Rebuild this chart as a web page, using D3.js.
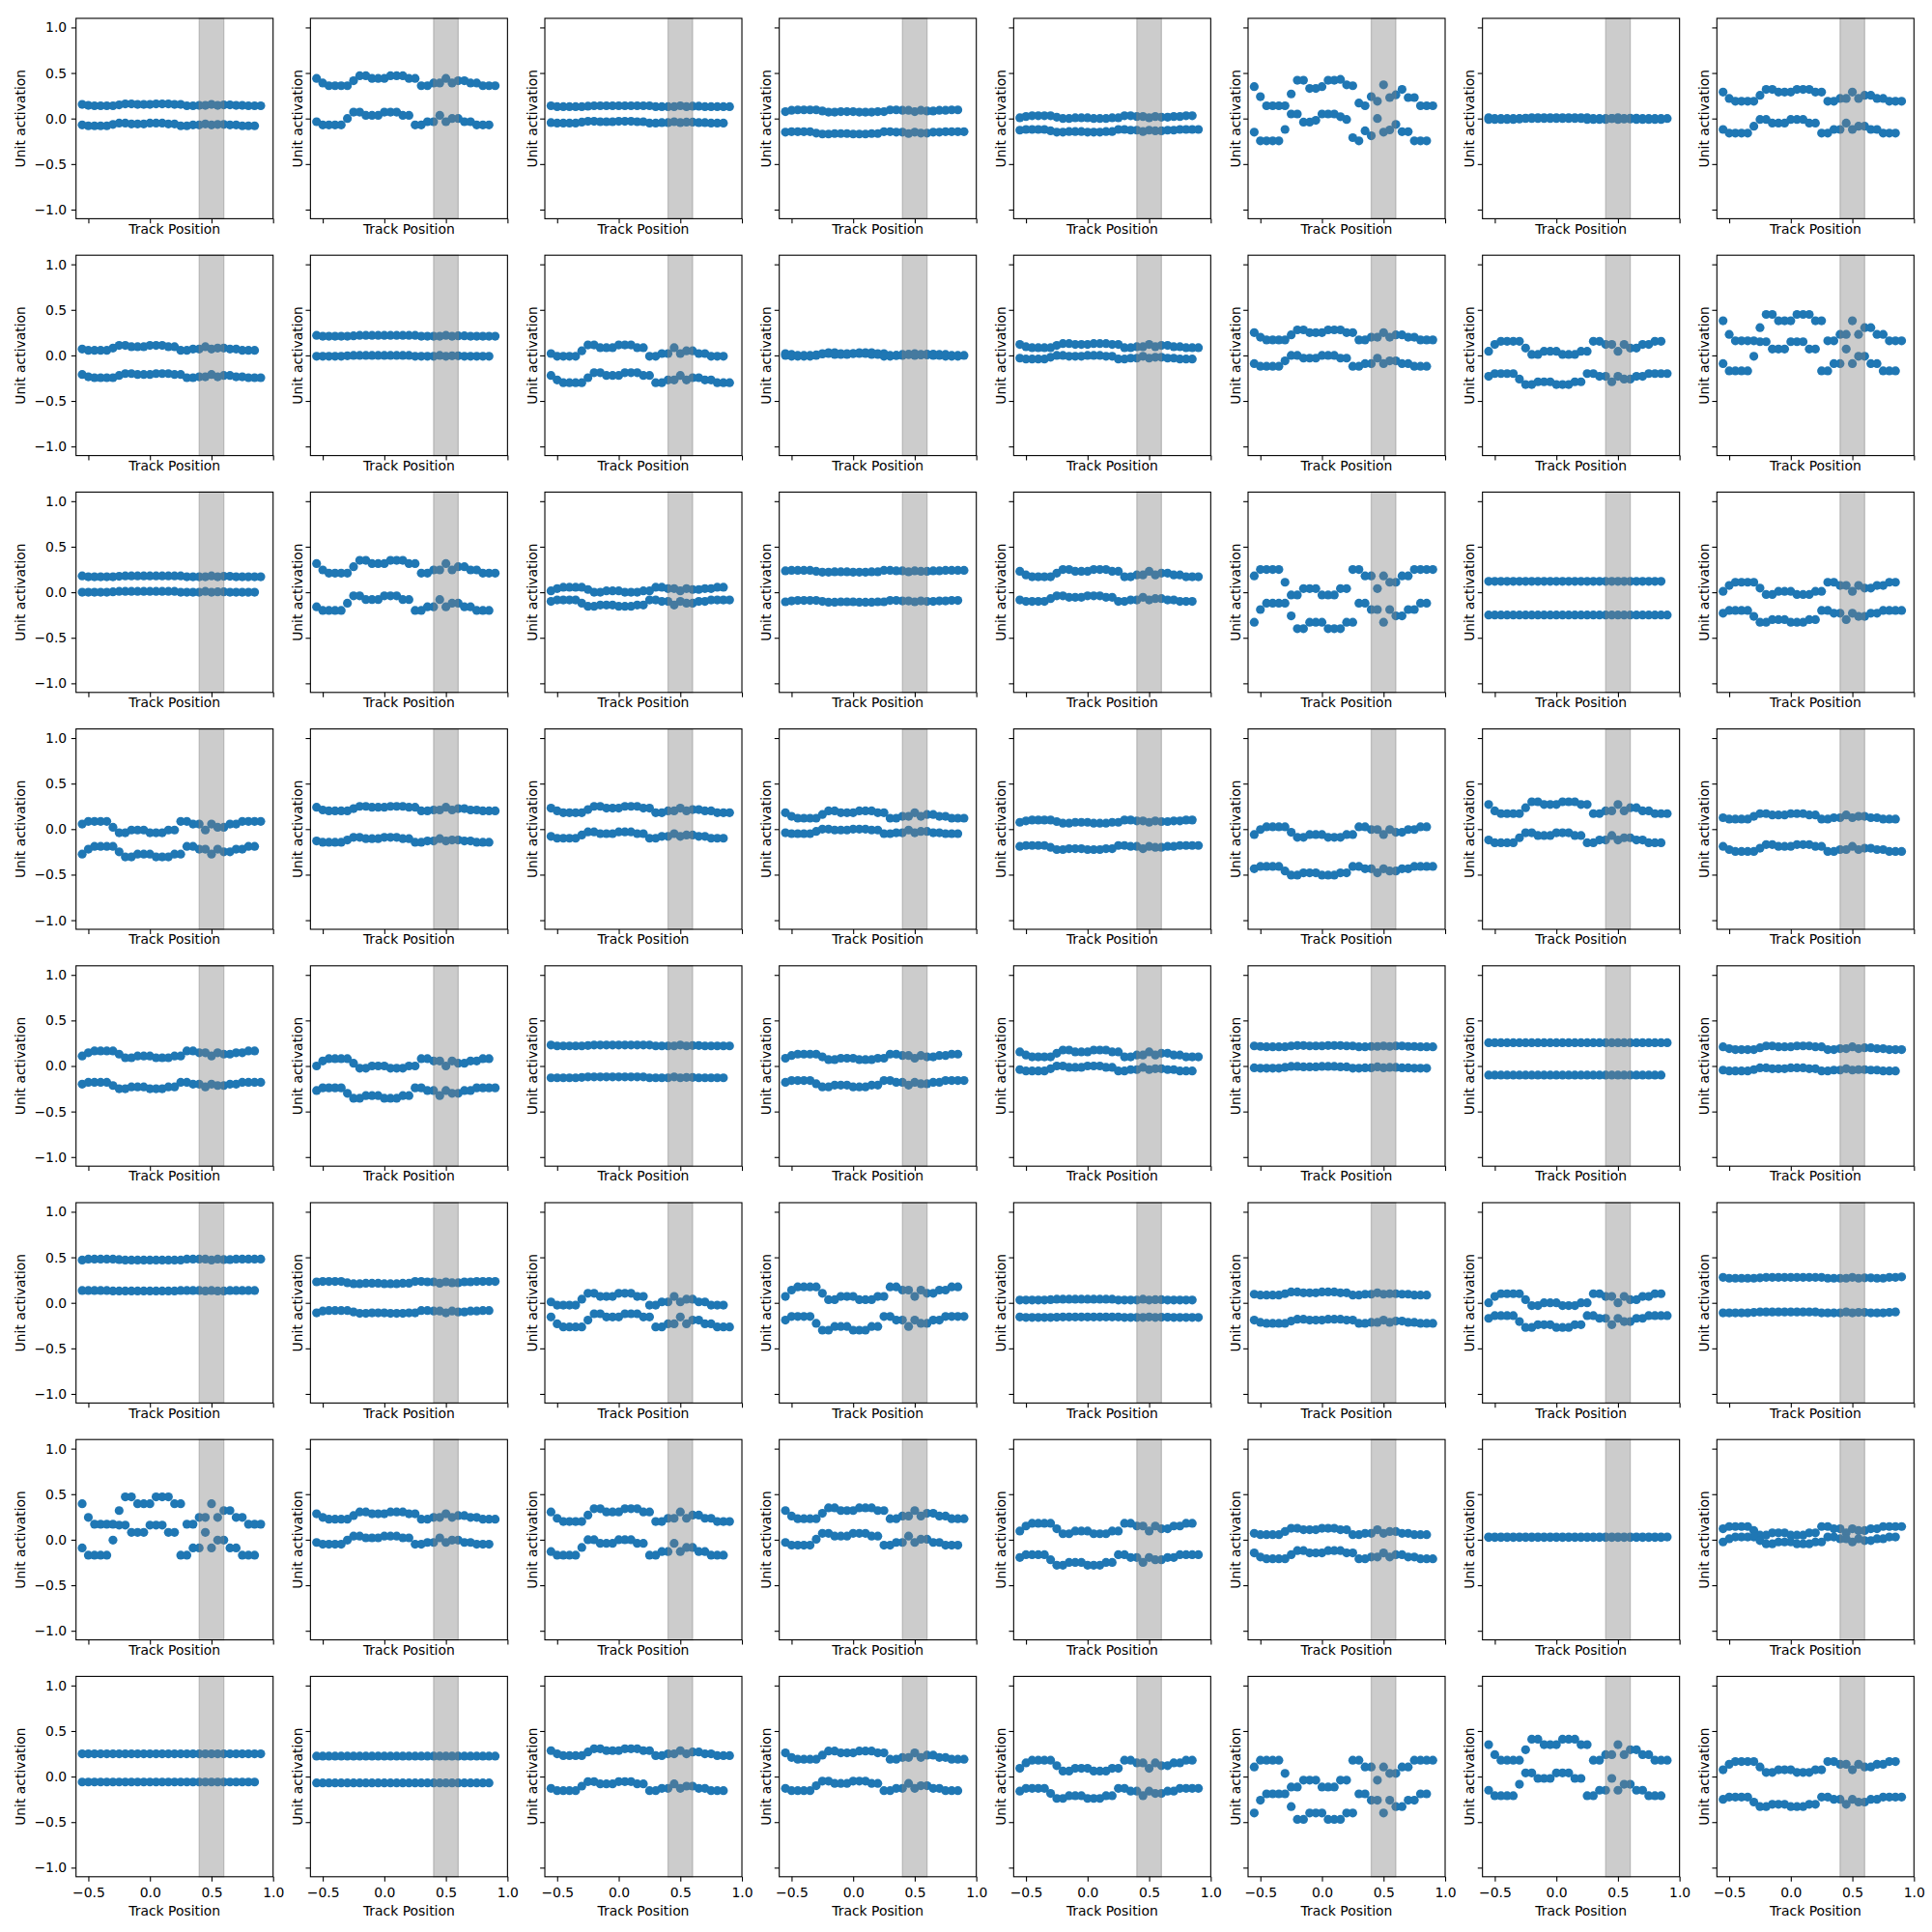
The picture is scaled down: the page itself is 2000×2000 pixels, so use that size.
<!DOCTYPE html>
<html><head><meta charset="utf-8">
<script src="https://cdn.jsdelivr.net/npm/d3@7"></script>
<style>body{margin:0;background:#fff}</style>
</head><body>
<script>
// ---- data ----
const trackPosA = [-0.55,-0.5,-0.45,-0.4,-0.35,-0.3,-0.25,-0.2,-0.15,-0.1,-0.05,0,0.05,0.1,0.15,0.2,0.25,0.3,0.35,0.4,0.45,0.5,0.55,0.6,0.65,0.7,0.75,0.8,0.85,0.9];
const trackPosB = [-0.55,-0.5,-0.45,-0.4,-0.35,-0.3,-0.25,-0.2,-0.15,-0.1,-0.05,0,0.05,0.1,0.15,0.2,0.25,0.3,0.35,0.4,0.45,0.5,0.55,0.6,0.65,0.7,0.75,0.8,0.85];
const xTickValues = [-0.5,0,0.5,1.0];
const yTickValues = [-1,-0.5,0,0.5,1];
const rewardZone = [0.4,0.6];
const xLabel = "Track Position";
const yLabel = "Unit activation";

// series A (30 points) per unit, row-major
const unitsA = [
[.155,.145,.14,.14,.14,.14,.15,.16,.16,.155,.155,.155,.16,.16,.16,.155,.155,.14,.14,.145,.145,.155,.145,.15,.15,.145,.145,.14,.14,.14],
[.44,.39,.36,.36,.36,.36,.415,.47,.47,.44,.44,.44,.47,.47,.47,.44,.44,.36,.36,.39,.39,.44,.39,.415,.415,.39,.39,.36,.36,.36],
[.14,.13,.13,.13,.13,.13,.135,.14,.14,.14,.14,.14,.14,.14,.14,.14,.14,.13,.13,.13,.13,.14,.13,.135,.135,.13,.13,.13,.13,.13],
[-.15,-.145,-.145,-.145,-.145,-.16,-.17,-.17,-.165,-.165,-.165,-.17,-.17,-.17,-.165,-.165,-.145,-.145,-.15,-.15,-.165,-.15,-.16,-.16,-.15,-.15,-.145,-.145,-.145,-.145],
[-.128,-.12,-.12,-.12,-.12,-.135,-.15,-.15,-.143,-.143,-.143,-.15,-.15,-.15,-.143,-.143,-.12,-.12,-.128,-.128,-.143,-.128,-.135,-.135,-.128,-.128,-.12,-.12,-.12,-.12],
[.35,.24,.14,.14,.14,.14,.27,.42,.42,.33,.33,.35,.42,.42,.43,.37,.36,.17,.14,.24,.19,.37,.23,.26,.32,.23,.23,.14,.14,.14],
[.01,0,0,0,0,0,.005,.01,.01,.01,.01,.01,.01,.01,.01,.01,.01,0,0,0,0,.01,0,.005,.005,0,0,0,0,0],
[.29,.22,.19,.19,.19,.19,.255,.32,.32,.29,.29,.29,.32,.32,.32,.29,.29,.19,.19,.22,.22,.29,.22,.255,.255,.22,.22,.19,.19,.19],

[-.21,-.235,-.245,-.245,-.245,-.245,-.22,-.2,-.2,-.21,-.21,-.21,-.2,-.2,-.2,-.21,-.21,-.245,-.245,-.235,-.235,-.21,-.235,-.22,-.22,-.235,-.235,-.245,-.245,-.245],
[.22,.21,.21,.21,.21,.21,.215,.22,.22,.22,.22,.22,.22,.22,.22,.22,.22,.21,.21,.21,.21,.22,.21,.215,.215,.21,.21,.21,.21,.21],
[-.22,-.27,-.3,-.3,-.3,-.3,-.245,-.19,-.19,-.22,-.22,-.22,-.19,-.19,-.19,-.22,-.22,-.3,-.3,-.27,-.27,-.22,-.27,-.245,-.245,-.27,-.27,-.3,-.3,-.3],
[.02,.01,0,0,0,0,.015,.03,.03,.02,.02,.02,.03,.03,.03,.02,.02,0,0,.01,.01,.02,.01,.015,.015,.01,.01,0,0,0],
[.12,.095,.085,.085,.085,.085,.11,.13,.13,.12,.12,.12,.13,.13,.13,.12,.12,.085,.085,.095,.095,.12,.095,.11,.11,.095,.095,.085,.085,.085],
[.25,.2,.17,.17,.17,.17,.225,.28,.28,.25,.25,.25,.28,.28,.28,.25,.25,.17,.17,.2,.2,.25,.2,.225,.225,.2,.2,.17,.17,.17],
[-.23,-.2,-.2,-.2,-.2,-.26,-.32,-.32,-.29,-.29,-.29,-.32,-.32,-.32,-.29,-.29,-.2,-.2,-.23,-.23,-.29,-.23,-.26,-.26,-.23,-.23,-.2,-.2,-.2,-.2],
[.38,.23,.16,.16,.16,.16,.305,.45,.45,.38,.38,.38,.45,.45,.45,.38,.38,.16,.16,.23,.23,.38,.23,.305,.305,.23,.23,.16,.16,.16],

[.18,.17,.17,.17,.17,.17,.175,.18,.18,.18,.18,.18,.18,.18,.18,.18,.18,.17,.17,.17,.17,.18,.17,.175,.175,.17,.17,.17,.17,.17],
[.315,.245,.21,.21,.21,.21,.28,.35,.35,.315,.315,.315,.35,.35,.35,.315,.315,.21,.21,.245,.245,.315,.245,.28,.28,.245,.245,.21,.21,.21],
[-.1,-.085,-.085,-.085,-.085,-.12,-.155,-.155,-.14,-.14,-.14,-.155,-.155,-.155,-.14,-.14,-.085,-.085,-.1,-.1,-.14,-.1,-.12,-.12,-.1,-.1,-.085,-.085,-.085,-.085],
[.235,.24,.24,.24,.24,.23,.22,.22,.225,.225,.225,.22,.22,.22,.225,.225,.24,.24,.235,.235,.225,.235,.23,.23,.235,.235,.24,.24,.24,.24],
[.23,.19,.17,.17,.17,.17,.21,.25,.25,.23,.23,.23,.25,.25,.25,.23,.23,.17,.17,.19,.19,.23,.19,.21,.21,.19,.19,.17,.17,.17],
[.18,.25,.25,.25,.25,.11,-.03,-.03,.04,.04,.04,-.03,-.03,-.03,.04,.04,.25,.25,.18,.18,.04,.18,.11,.11,.18,.18,.25,.25,.25,.25],
[-.25,-.25,-.25,-.25,-.25,-.25,-.25,-.25,-.25,-.25,-.25,-.25,-.25,-.25,-.25,-.25,-.25,-.25,-.25,-.25,-.25,-.25,-.25,-.25,-.25,-.25,-.25,-.25,-.25,-.25],
[-.23,-.2,-.2,-.2,-.2,-.265,-.33,-.33,-.3,-.3,-.3,-.33,-.33,-.33,-.3,-.3,-.2,-.2,-.23,-.23,-.3,-.23,-.265,-.265,-.23,-.23,-.2,-.2,-.2,-.2],

[.055,.085,.085,.085,.085,.02,-.04,-.04,-.01,-.01,-.01,-.04,-.04,-.04,-.01,-.01,.085,.085,.055,.055,-.01,.055,.02,.02,.055,.055,.085,.085,.085,.085],
[.24,.21,.2,.2,.2,.2,.225,.25,.25,.24,.24,.24,.25,.25,.25,.24,.24,.2,.2,.21,.21,.24,.21,.225,.225,.21,.21,.2,.2,.2],
[.23,.2,.18,.18,.18,.18,.215,.25,.25,.23,.23,.23,.25,.25,.25,.23,.23,.18,.18,.2,.2,.23,.2,.215,.215,.2,.2,.18,.18,.18],
[.18,.14,.12,.12,.12,.12,.16,.2,.2,.18,.18,.18,.2,.2,.2,.18,.18,.12,.12,.14,.14,.18,.14,.16,.16,.14,.14,.12,.12,.12],
[-.19,-.18,-.18,-.18,-.18,-.2,-.225,-.225,-.215,-.215,-.215,-.225,-.225,-.225,-.215,-.215,-.18,-.18,-.19,-.19,-.215,-.19,-.2,-.2,-.19,-.19,-.18,-.18,-.18,-.18],
[-.435,-.41,-.41,-.41,-.41,-.46,-.505,-.505,-.48,-.48,-.48,-.505,-.505,-.505,-.48,-.48,-.41,-.41,-.435,-.435,-.48,-.435,-.46,-.46,-.435,-.435,-.41,-.41,-.41,-.41],
[.27,.2,.17,.17,.17,.17,.235,.3,.3,.27,.27,.27,.3,.3,.3,.27,.27,.17,.17,.2,.2,.27,.2,.235,.235,.2,.2,.17,.17,.17],
[-.19,-.225,-.245,-.245,-.245,-.245,-.21,-.17,-.17,-.19,-.19,-.19,-.17,-.17,-.17,-.19,-.19,-.245,-.245,-.225,-.225,-.19,-.225,-.21,-.21,-.225,-.225,-.245,-.245,-.245],

[-.2,-.18,-.18,-.18,-.18,-.215,-.25,-.25,-.23,-.23,-.23,-.25,-.25,-.25,-.23,-.23,-.18,-.18,-.2,-.2,-.23,-.2,-.215,-.215,-.2,-.2,-.18,-.18,-.18,-.18],
[-.27,-.24,-.24,-.24,-.24,-.3,-.355,-.355,-.325,-.325,-.325,-.355,-.355,-.355,-.325,-.325,-.24,-.24,-.27,-.27,-.325,-.27,-.3,-.3,-.27,-.27,-.24,-.24,-.24,-.24],
[.23,.22,.22,.22,.22,.22,.225,.23,.23,.23,.23,.23,.23,.23,.23,.23,.23,.22,.22,.22,.22,.23,.22,.225,.225,.22,.22,.22,.22,.22],
[-.18,-.16,-.16,-.16,-.16,-.195,-.23,-.23,-.21,-.21,-.21,-.23,-.23,-.23,-.21,-.21,-.16,-.16,-.18,-.18,-.21,-.18,-.195,-.195,-.18,-.18,-.16,-.16,-.16,-.16],
[.155,.12,.1,.1,.1,.1,.14,.175,.175,.155,.155,.155,.175,.175,.175,.155,.155,.1,.1,.12,.12,.155,.12,.14,.14,.12,.12,.1,.1,.1],
[.22,.215,.21,.21,.21,.21,.22,.225,.225,.22,.22,.22,.225,.225,.225,.22,.22,.21,.21,.215,.215,.22,.215,.22,.22,.215,.215,.21,.21,.21],
[.255,.255,.255,.255,.255,.255,.255,.255,.255,.255,.255,.255,.255,.255,.255,.255,.255,.255,.255,.255,.255,.255,.255,.255,.255,.255,.255,.255,.255,.255],
[.21,.19,.18,.18,.18,.18,.2,.22,.22,.21,.21,.21,.22,.22,.22,.21,.21,.18,.18,.19,.19,.21,.19,.2,.2,.19,.19,.18,.18,.18],

[.47,.48,.48,.48,.48,.48,.475,.47,.47,.47,.47,.47,.47,.47,.47,.47,.47,.48,.48,.48,.48,.47,.48,.475,.475,.48,.48,.48,.48,.48],
[.23,.235,.235,.235,.235,.22,.21,.21,.215,.215,.215,.21,.21,.21,.215,.215,.235,.235,.23,.23,.215,.23,.22,.22,.23,.23,.235,.235,.235,.235],
[-.155,-.23,-.265,-.265,-.265,-.265,-.19,-.12,-.12,-.155,-.155,-.155,-.12,-.12,-.12,-.155,-.155,-.265,-.265,-.23,-.23,-.155,-.23,-.19,-.19,-.23,-.23,-.265,-.265,-.265],
[-.19,-.15,-.15,-.15,-.15,-.225,-.3,-.3,-.26,-.26,-.26,-.3,-.3,-.3,-.26,-.26,-.15,-.15,-.19,-.19,-.26,-.19,-.225,-.225,-.19,-.19,-.15,-.15,-.15,-.15],
[-.155,-.16,-.16,-.16,-.16,-.16,-.158,-.155,-.155,-.155,-.155,-.155,-.155,-.155,-.155,-.155,-.155,-.16,-.16,-.16,-.16,-.155,-.16,-.158,-.158,-.16,-.16,-.16,-.16,-.16],
[-.19,-.215,-.225,-.225,-.225,-.225,-.2,-.18,-.18,-.19,-.19,-.19,-.18,-.18,-.18,-.19,-.19,-.225,-.225,-.215,-.215,-.19,-.215,-.2,-.2,-.215,-.215,-.225,-.225,-.225],
[-.17,-.14,-.14,-.14,-.14,-.205,-.27,-.27,-.24,-.24,-.24,-.27,-.27,-.27,-.24,-.24,-.14,-.14,-.17,-.17,-.24,-.17,-.205,-.205,-.17,-.17,-.14,-.14,-.14,-.14],
[.28,.27,.27,.27,.27,.27,.275,.28,.28,.28,.28,.28,.28,.28,.28,.28,.28,.27,.27,.27,.27,.28,.27,.275,.275,.27,.27,.28,.28,.285],

[.395,.245,.17,.17,.17,.17,.32,.47,.47,.395,.395,.395,.47,.47,.47,.395,.395,.17,.17,.245,.245,.395,.245,.32,.32,.245,.245,.17,.17,.17],
[.285,.245,.225,.225,.225,.225,.265,.305,.305,.285,.285,.285,.305,.305,.305,.285,.285,.225,.225,.245,.245,.285,.245,.265,.265,.245,.245,.225,.225,.225],
[.305,.235,.2,.2,.2,.2,.27,.34,.34,.305,.305,.305,.34,.34,.34,.305,.305,.2,.2,.235,.235,.305,.235,.27,.27,.235,.235,.2,.2,.2],
[.32,.26,.23,.23,.23,.23,.29,.35,.35,.32,.32,.32,.35,.35,.35,.32,.32,.23,.23,.26,.26,.32,.26,.29,.29,.26,.26,.23,.23,.23],
[-.195,-.165,-.165,-.165,-.165,-.22,-.28,-.28,-.25,-.25,-.25,-.28,-.28,-.28,-.25,-.25,-.165,-.165,-.195,-.195,-.25,-.195,-.22,-.22,-.195,-.195,-.165,-.165,-.165,-.165],
[-.145,-.19,-.21,-.21,-.21,-.21,-.165,-.12,-.12,-.145,-.145,-.145,-.12,-.12,-.12,-.145,-.145,-.21,-.21,-.19,-.19,-.145,-.19,-.165,-.165,-.19,-.19,-.21,-.21,-.21],
[.03,.03,.03,.03,.03,.03,.03,.03,.03,.03,.03,.03,.03,.03,.03,.03,.03,.03,.03,.03,.03,.03,.03,.03,.03,.03,.03,.03,.03,.03],
[.12,.145,.145,.145,.145,.1,.05,.05,.075,.075,.075,.05,.05,.05,.075,.075,.145,.145,.12,.12,.075,.12,.1,.1,.12,.12,.145,.145,.145,.145],

[.25,.25,.25,.25,.25,.25,.25,.25,.25,.25,.25,.25,.25,.25,.25,.25,.25,.25,.25,.25,.25,.25,.25,.25,.25,.25,.25,.25,.25,.25],
[.225,.225,.225,.225,.225,.225,.225,.225,.225,.225,.225,.225,.225,.225,.225,.225,.225,.225,.225,.225,.225,.225,.225,.225,.225,.225,.225,.225,.225,.225],
[.285,.25,.23,.23,.23,.23,.27,.305,.305,.285,.285,.285,.305,.305,.305,.285,.285,.23,.23,.25,.25,.285,.25,.27,.27,.25,.25,.23,.23,.23],
[.26,.21,.19,.19,.19,.19,.235,.28,.28,.26,.26,.26,.28,.28,.28,.26,.26,.19,.19,.21,.21,.26,.21,.235,.235,.21,.21,.19,.19,.19],
[-.16,-.13,-.13,-.13,-.13,-.185,-.24,-.24,-.21,-.21,-.21,-.24,-.24,-.24,-.21,-.21,-.13,-.13,-.16,-.16,-.21,-.16,-.185,-.185,-.16,-.16,-.13,-.13,-.13,-.13],
[.105,.18,.18,.18,.18,.035,-.115,-.115,-.04,-.04,-.04,-.115,-.115,-.115,-.04,-.04,.18,.18,.105,.105,-.04,.105,.035,.035,.105,.105,.18,.18,.18,.18],
[.35,.24,.18,.18,.18,.18,.295,.41,.41,.35,.35,.35,.41,.41,.41,.35,.35,.18,.18,.24,.24,.35,.24,.295,.295,.24,.24,.18,.18,.18],
[-.25,-.225,-.225,-.225,-.225,-.28,-.33,-.33,-.305,-.305,-.305,-.33,-.33,-.33,-.305,-.305,-.225,-.225,-.25,-.25,-.305,-.25,-.28,-.28,-.25,-.25,-.225,-.225,-.225,-.225]
];

// series B (29 points) per unit, row-major
const unitsB = [
[-.07,-.08,-.08,-.08,-.08,-.065,-.05,-.05,-.06,-.06,-.06,-.05,-.05,-.05,-.06,-.06,-.08,-.08,-.07,-.07,-.06,-.07,-.065,-.065,-.07,-.07,-.08,-.08,-.08],
[-.035,-.07,-.07,-.07,-.07,0,.07,.07,.035,.035,.035,.07,.07,.07,.035,.035,-.07,-.07,-.035,-.035,.035,-.035,0,0,-.035,-.035,-.07,-.07,-.07],
[-.045,-.05,-.05,-.05,-.05,-.04,-.03,-.03,-.035,-.035,-.035,-.03,-.03,-.03,-.035,-.035,-.05,-.05,-.045,-.045,-.035,-.045,-.04,-.04,-.045,-.045,-.05,-.05,-.05],
[.076,.09,.095,.095,.095,.095,.083,.07,.07,.076,.076,.076,.07,.07,.07,.076,.076,.095,.095,.09,.09,.076,.09,.083,.083,.09,.09,.095,.095],
[.008,.022,.03,.03,.03,.03,.015,0,0,.008,.008,.008,0,0,0,.008,.008,.03,.03,.022,.022,.008,.022,.015,.015,.022,.022,.03,.03],
[-.15,-.245,-.245,-.245,-.245,-.12,.05,.05,-.04,-.04,-.02,.05,.05,.05,.02,-.01,-.21,-.245,-.135,-.19,0,-.15,-.125,-.065,-.145,-.145,-.245,-.245,-.245],
[-.01,-.01,-.01,-.01,-.01,-.005,0,0,0,0,0,0,0,0,0,0,-.01,-.01,-.01,-.01,0,-.01,-.005,-.005,-.01,-.01,-.01,-.01,-.01],
[-.12,-.16,-.16,-.16,-.16,-.085,-.01,-.01,-.05,-.05,-.05,-.01,-.01,-.01,-.05,-.05,-.16,-.16,-.12,-.12,-.05,-.12,-.085,-.085,-.12,-.12,-.16,-.16,-.16],

[.07,.055,.055,.055,.055,.08,.11,.11,.095,.095,.095,.11,.11,.11,.095,.095,.055,.055,.07,.07,.095,.07,.08,.08,.07,.07,.055,.055,.055],
[-.01,-.01,-.01,-.01,-.01,-.005,0,0,0,0,0,0,0,0,0,0,-.01,-.01,-.01,-.01,0,-.01,-.005,-.005,-.01,-.01,-.01,-.01,-.01],
[.02,-.01,-.01,-.01,-.01,.05,.115,.115,.085,.085,.085,.115,.115,.115,.085,.085,-.01,-.01,.02,.02,.085,.02,.05,.05,.02,.02,-.01,-.01,-.01],
[0,-.01,-.01,-.01,-.01,.005,.02,.02,.01,.01,.01,.02,.02,.02,.01,.01,-.01,-.01,0,0,.01,0,.005,.005,0,0,-.01,-.01,-.01],
[-.03,-.04,-.04,-.04,-.04,-.02,0,0,-.01,-.01,-.01,0,0,0,-.01,-.01,-.04,-.04,-.03,-.03,-.01,-.03,-.02,-.02,-.03,-.03,-.04,-.04,-.04],
[-.09,-.12,-.12,-.12,-.12,-.06,0,0,-.03,-.03,-.03,0,0,0,-.03,-.03,-.12,-.12,-.09,-.09,-.03,-.09,-.06,-.06,-.09,-.09,-.12,-.12,-.12],
[.045,.12,.155,.155,.155,.155,.08,.01,.01,.045,.045,.045,.01,.01,.01,.045,.045,.155,.155,.12,.12,.045,.12,.08,.08,.12,.12,.155,.155],
[-.09,-.17,-.17,-.17,-.17,-.01,.15,.15,.07,.07,.07,.15,.15,.15,.07,.07,-.17,-.17,-.09,-.09,.07,-.09,-.01,-.01,-.09,-.09,-.17,-.17,-.17],

[0,0,0,0,0,.005,.01,.01,.01,.01,.01,.01,.01,.01,.01,.01,0,0,0,0,.01,0,.005,.005,0,0,0,0,0],
[-.16,-.2,-.2,-.2,-.2,-.12,-.04,-.04,-.08,-.08,-.08,-.04,-.04,-.04,-.08,-.08,-.2,-.2,-.16,-.16,-.08,-.16,-.12,-.12,-.16,-.16,-.2,-.2,-.2],
[.015,.04,.055,.055,.055,.055,.03,0,0,.015,.015,.015,0,0,0,.015,.015,.055,.055,.04,.04,.015,.04,.03,.03,.04,.04,.055,.055],
[-.105,-.095,-.09,-.09,-.09,-.09,-.1,-.11,-.11,-.105,-.105,-.105,-.11,-.11,-.11,-.105,-.105,-.09,-.09,-.095,-.095,-.105,-.095,-.1,-.1,-.095,-.095,-.09,-.09],
[-.085,-.1,-.1,-.1,-.1,-.07,-.04,-.04,-.055,-.055,-.055,-.04,-.04,-.04,-.055,-.055,-.1,-.1,-.085,-.085,-.055,-.085,-.07,-.07,-.085,-.085,-.1,-.1,-.1],
[-.33,-.19,-.12,-.12,-.12,-.12,-.26,-.4,-.4,-.33,-.33,-.33,-.4,-.4,-.4,-.33,-.33,-.12,-.12,-.19,-.19,-.33,-.19,-.26,-.26,-.19,-.19,-.12,-.12],
[.12,.12,.12,.12,.12,.12,.12,.12,.12,.12,.12,.12,.12,.12,.12,.12,.12,.12,.12,.12,.12,.12,.12,.12,.12,.12,.12,.12,.12],
[.01,.075,.11,.11,.11,.11,.045,-.025,-.025,.01,.01,.01,-.025,-.025,-.025,.01,.01,.11,.11,.075,.075,.01,.075,.045,.045,.075,.075,.11,.11],

[-.275,-.22,-.19,-.19,-.19,-.19,-.25,-.305,-.305,-.275,-.275,-.275,-.305,-.305,-.305,-.275,-.275,-.19,-.19,-.22,-.22,-.275,-.22,-.25,-.25,-.22,-.22,-.19,-.19],
[-.13,-.145,-.145,-.145,-.145,-.12,-.09,-.09,-.105,-.105,-.105,-.09,-.09,-.09,-.105,-.105,-.145,-.145,-.13,-.13,-.105,-.13,-.12,-.12,-.13,-.13,-.145,-.145,-.145],
[-.08,-.1,-.1,-.1,-.1,-.065,-.03,-.03,-.05,-.05,-.05,-.03,-.03,-.03,-.05,-.05,-.1,-.1,-.08,-.08,-.05,-.08,-.065,-.065,-.08,-.08,-.1,-.1,-.1],
[-.04,-.05,-.05,-.05,-.05,-.025,0,0,-.01,-.01,-.01,0,0,0,-.01,-.01,-.05,-.05,-.04,-.04,-.01,-.04,-.025,-.025,-.04,-.04,-.05,-.05,-.05],
[.075,.09,.1,.1,.1,.1,.083,.065,.065,.075,.075,.075,.065,.065,.065,.075,.075,.1,.1,.09,.09,.075,.09,.083,.083,.09,.09,.1,.1],
[-.06,-.005,.025,.025,.025,.025,-.035,-.09,-.09,-.06,-.06,-.06,-.09,-.09,-.09,-.06,-.06,.025,.025,-.005,-.005,-.06,-.005,-.035,-.035,-.005,-.005,.025,.025],
[-.12,-.15,-.15,-.15,-.15,-.095,-.04,-.04,-.07,-.07,-.07,-.04,-.04,-.04,-.07,-.07,-.15,-.15,-.12,-.12,-.07,-.12,-.095,-.095,-.12,-.12,-.15,-.15,-.15],
[.125,.11,.11,.11,.11,.14,.17,.17,.155,.155,.155,.17,.17,.17,.155,.155,.11,.11,.125,.125,.155,.125,.14,.14,.125,.125,.11,.11,.11],

[.11,.145,.165,.165,.165,.165,.13,.09,.09,.11,.11,.11,.09,.09,.09,.11,.11,.165,.165,.145,.145,.11,.145,.13,.13,.145,.145,.165,.165],
[0,.055,.08,.08,.08,.08,.03,-.025,-.025,0,0,0,-.025,-.025,-.025,0,0,.08,.08,.055,.055,0,.055,.03,.03,.055,.055,.08,.08],
[-.13,-.13,-.13,-.13,-.13,-.125,-.12,-.12,-.12,-.12,-.12,-.12,-.12,-.12,-.12,-.12,-.13,-.13,-.13,-.13,-.12,-.13,-.125,-.125,-.13,-.13,-.13,-.13,-.13],
[.085,.115,.13,.13,.13,.13,.1,.07,.07,.085,.085,.085,.07,.07,.07,.085,.085,.13,.13,.115,.115,.085,.115,.1,.1,.115,.115,.13,.13],
[-.04,-.055,-.055,-.055,-.055,-.03,0,0,-.015,-.015,-.015,0,0,0,-.015,-.015,-.055,-.055,-.04,-.04,-.015,-.04,-.03,-.03,-.04,-.04,-.055,-.055,-.055],
[-.02,-.025,-.025,-.025,-.025,-.015,-.005,-.005,-.01,-.01,-.01,-.005,-.005,-.005,-.01,-.01,-.025,-.025,-.02,-.02,-.01,-.02,-.015,-.015,-.02,-.02,-.025,-.025,-.025],
[-.1,-.1,-.1,-.1,-.1,-.1,-.1,-.1,-.1,-.1,-.1,-.1,-.1,-.1,-.1,-.1,-.1,-.1,-.1,-.1,-.1,-.1,-.1,-.1,-.1,-.1,-.1,-.1,-.1],
[-.045,-.055,-.055,-.055,-.055,-.04,-.02,-.02,-.03,-.03,-.03,-.02,-.02,-.02,-.03,-.03,-.055,-.055,-.045,-.045,-.03,-.045,-.04,-.04,-.045,-.045,-.055,-.055,-.055],

[.135,.135,.135,.135,.135,.13,.13,.13,.13,.13,.13,.13,.13,.13,.13,.13,.135,.135,.135,.135,.13,.135,.13,.13,.135,.135,.135,.135,.135],
[-.11,-.09,-.085,-.085,-.085,-.085,-.1,-.115,-.115,-.11,-.11,-.11,-.115,-.115,-.115,-.11,-.11,-.085,-.085,-.09,-.09,-.11,-.09,-.1,-.1,-.09,-.09,-.085,-.085],
[.01,-.025,-.025,-.025,-.025,.04,.105,.105,.07,.07,.07,.105,.105,.105,.07,.07,-.025,-.025,.01,.01,.07,.01,.04,.04,.01,.01,-.025,-.025,-.025],
[.07,.14,.175,.175,.175,.175,.105,.035,.035,.07,.07,.07,.035,.035,.035,.07,.07,.175,.175,.14,.14,.07,.14,.105,.105,.14,.14,.175,.175],
[.03,.03,.03,.03,.03,.035,.04,.04,.04,.04,.04,.04,.04,.04,.04,.04,.03,.03,.03,.03,.04,.03,.035,.035,.03,.03,.03,.03,.03],
[.095,.085,.085,.085,.085,.1,.12,.12,.11,.11,.11,.12,.12,.12,.11,.11,.085,.085,.095,.095,.11,.095,.1,.1,.095,.095,.085,.085,.085],
[0,.07,.1,.1,.1,.1,.035,-.03,-.03,0,0,0,-.03,-.03,-.03,0,0,.1,.1,.07,.07,0,.07,.035,.035,.07,.07,.1,.1],
[-.11,-.11,-.11,-.11,-.11,-.105,-.1,-.1,-.1,-.1,-.1,-.1,-.1,-.1,-.1,-.1,-.11,-.11,-.11,-.11,-.1,-.11,-.105,-.105,-.11,-.11,-.11,-.105,-.1],

[-.09,-.17,-.17,-.17,-.17,-.005,.16,.16,.08,.08,.08,.16,.16,.16,.08,.08,-.17,-.17,-.09,-.09,.08,-.09,-.005,-.005,-.09,-.09,-.17,-.17,-.17],
[-.03,-.05,-.05,-.05,-.05,-.005,.04,.04,.02,.02,.02,.04,.04,.04,.02,.02,-.05,-.05,-.03,-.03,.02,-.03,-.005,-.005,-.03,-.03,-.05,-.05,-.05],
[-.13,-.17,-.17,-.17,-.17,-.085,0,0,-.04,-.04,-.04,0,0,0,-.04,-.04,-.17,-.17,-.13,-.13,-.04,-.13,-.085,-.085,-.13,-.13,-.17,-.17,-.17],
[-.03,-.06,-.06,-.06,-.06,.005,.07,.07,.04,.04,.04,.07,.07,.07,.04,.04,-.06,-.06,-.03,-.03,.04,-.03,.005,.005,-.03,-.03,-.06,-.06,-.06],
[.095,.15,.18,.18,.18,.18,.12,.065,.065,.095,.095,.095,.065,.065,.065,.095,.095,.18,.18,.15,.15,.095,.15,.12,.12,.15,.15,.18,.18],
[.07,.055,.055,.055,.055,.09,.125,.125,.11,.11,.11,.125,.125,.125,.11,.11,.055,.055,.07,.07,.11,.07,.09,.09,.07,.07,.055,.055,.055],
[.025,.025,.025,.025,.025,.025,.025,.025,.025,.025,.025,.025,.025,.025,.025,.025,.025,.025,.025,.025,.025,.025,.025,.025,.025,.025,.025,.025,.025],
[-.025,.01,.03,.03,.03,.03,-.01,-.045,-.045,-.025,-.025,-.025,-.045,-.045,-.045,-.025,-.025,.03,.03,.01,.01,-.025,.01,-.01,-.01,.01,.01,.03,.03],

[-.06,-.06,-.06,-.06,-.06,-.06,-.06,-.06,-.06,-.06,-.06,-.06,-.06,-.06,-.06,-.06,-.06,-.06,-.06,-.06,-.06,-.06,-.06,-.06,-.06,-.06,-.06,-.06,-.06],
[-.07,-.07,-.07,-.07,-.07,-.07,-.07,-.07,-.07,-.07,-.07,-.07,-.07,-.07,-.07,-.07,-.07,-.07,-.07,-.07,-.07,-.07,-.07,-.07,-.07,-.07,-.07,-.07,-.07],
[-.13,-.155,-.155,-.155,-.155,-.105,-.055,-.055,-.08,-.08,-.08,-.055,-.055,-.055,-.08,-.08,-.155,-.155,-.13,-.13,-.08,-.13,-.105,-.105,-.13,-.13,-.155,-.155,-.155],
[-.13,-.155,-.155,-.155,-.155,-.1,-.05,-.05,-.075,-.075,-.075,-.05,-.05,-.05,-.075,-.075,-.155,-.155,-.13,-.13,-.075,-.13,-.1,-.1,-.13,-.13,-.155,-.155,-.155],
[.09,.15,.18,.18,.18,.18,.12,.06,.06,.09,.09,.09,.06,.06,.06,.09,.09,.18,.18,.15,.15,.09,.15,.12,.12,.15,.15,.18,.18],
[-.4,-.26,-.19,-.19,-.19,-.19,-.33,-.47,-.47,-.4,-.4,-.4,-.47,-.47,-.47,-.4,-.4,-.19,-.19,-.26,-.26,-.4,-.26,-.33,-.33,-.26,-.26,-.19,-.19],
[-.15,-.21,-.21,-.21,-.21,-.085,.04,.04,-.02,-.02,-.02,.04,.04,.04,-.02,-.02,-.21,-.21,-.15,-.15,-.02,-.15,-.085,-.085,-.15,-.15,-.21,-.21,-.21],
[.075,.135,.165,.165,.165,.165,.105,.045,.045,.075,.075,.075,.045,.045,.045,.075,.075,.165,.165,.135,.135,.075,.135,.105,.105,.135,.135,.165,.165]
];

// ---- layout ----
const nRows = 8, nCols = 8;
const axLeft0 = 78.7, colStep = 242.66, axTop0 = 19, rowStep = 245.2;
const axW = 204, axH = 207.4;
const dotColor = "#1f77b4";
const fontFam = "'DejaVu Sans', sans-serif";
const fs = 13.9;

const svg = d3.select("body").append("svg")
  .attr("width", 2000).attr("height", 2000)
  .style("background", "#fff");
svg.append("rect").attr("width",2000).attr("height",2000).attr("fill","#fff");

const x = d3.scaleLinear().domain([-0.6, 1.0]).range([0, axW]);
const y = d3.scaleLinear().domain([-1.1, 1.1]).range([axH, 0]);
const fmt = d3.format(".1f");

for (let idx = 0; idx < nRows*nCols; idx++) {
  const r = Math.floor(idx / nCols), c = idx % nCols;
  const left = axLeft0 + c*colStep, top = axTop0 + r*rowStep;
  const g = svg.append("g").attr("transform", `translate(${left},${top})`);

  const ptsA = d3.zip(trackPosA, unitsA[idx]);
  const ptsB = d3.zip(trackPosB, unitsB[idx]);

  g.selectAll("circle.a").data(ptsA).join("circle")
    .attr("class","a").attr("cx", d => x(d[0])).attr("cy", d => y(d[1]))
    .attr("r", 4.6).attr("fill", dotColor);
  g.selectAll("circle.b").data(ptsB).join("circle")
    .attr("class","b").attr("cx", d => x(d[0])).attr("cy", d => y(d[1]))
    .attr("r", 4.6).attr("fill", dotColor);

  // reward zone band
  g.append("rect")
    .attr("x", x(rewardZone[0])).attr("y", 0)
    .attr("width", x(rewardZone[1]) - x(rewardZone[0])).attr("height", axH)
    .attr("fill", "#808080").attr("fill-opacity", 0.4)
    .attr("stroke", "#808080").attr("stroke-opacity", 0.4).attr("stroke-width", 1.3);

  // axes
  const isBottom = r === nRows - 1, isLeft = c === 0;
  const xAxis = d3.axisBottom(x).tickValues(xTickValues).tickSize(4.9).tickPadding(6)
    .tickFormat(isBottom ? fmt : () => "");
  const yAxis = d3.axisLeft(y).tickValues(yTickValues).tickSize(4.9).tickPadding(4.6)
    .tickFormat(isLeft ? fmt : () => "");
  const gx = g.append("g").attr("transform", `translate(0,${axH})`).call(xAxis);
  const gy = g.append("g").call(yAxis);
  [gx, gy].forEach(a => {
    a.select(".domain").remove();
    a.selectAll("line").attr("stroke", "#000").attr("stroke-width", 1.1);
    a.selectAll("text").attr("font-family", fontFam).attr("font-size", fs).attr("fill", "#000");
    a.attr("font-family", null).attr("font-size", null);
  });

  // frame
  g.append("rect").attr("x",0).attr("y",0).attr("width",axW).attr("height",axH)
    .attr("fill","none").attr("stroke","#000").attr("stroke-width",1.1);

  // labels
  g.append("text").text(xLabel)
    .attr("x", axW/2).attr("y", axH + (isBottom ? 39.8 : 15.1))
    .attr("text-anchor","middle").attr("font-family", fontFam).attr("font-size", fs).attr("fill","#000");
  const ylx = isLeft ? -52.7 : -8.4;
  g.append("text").text(yLabel)
    .attr("transform", `translate(${ylx},${axH/2}) rotate(-90)`)
    .attr("text-anchor","middle").attr("font-family", fontFam).attr("font-size", fs).attr("fill","#000");
}
</script>
</body></html>
